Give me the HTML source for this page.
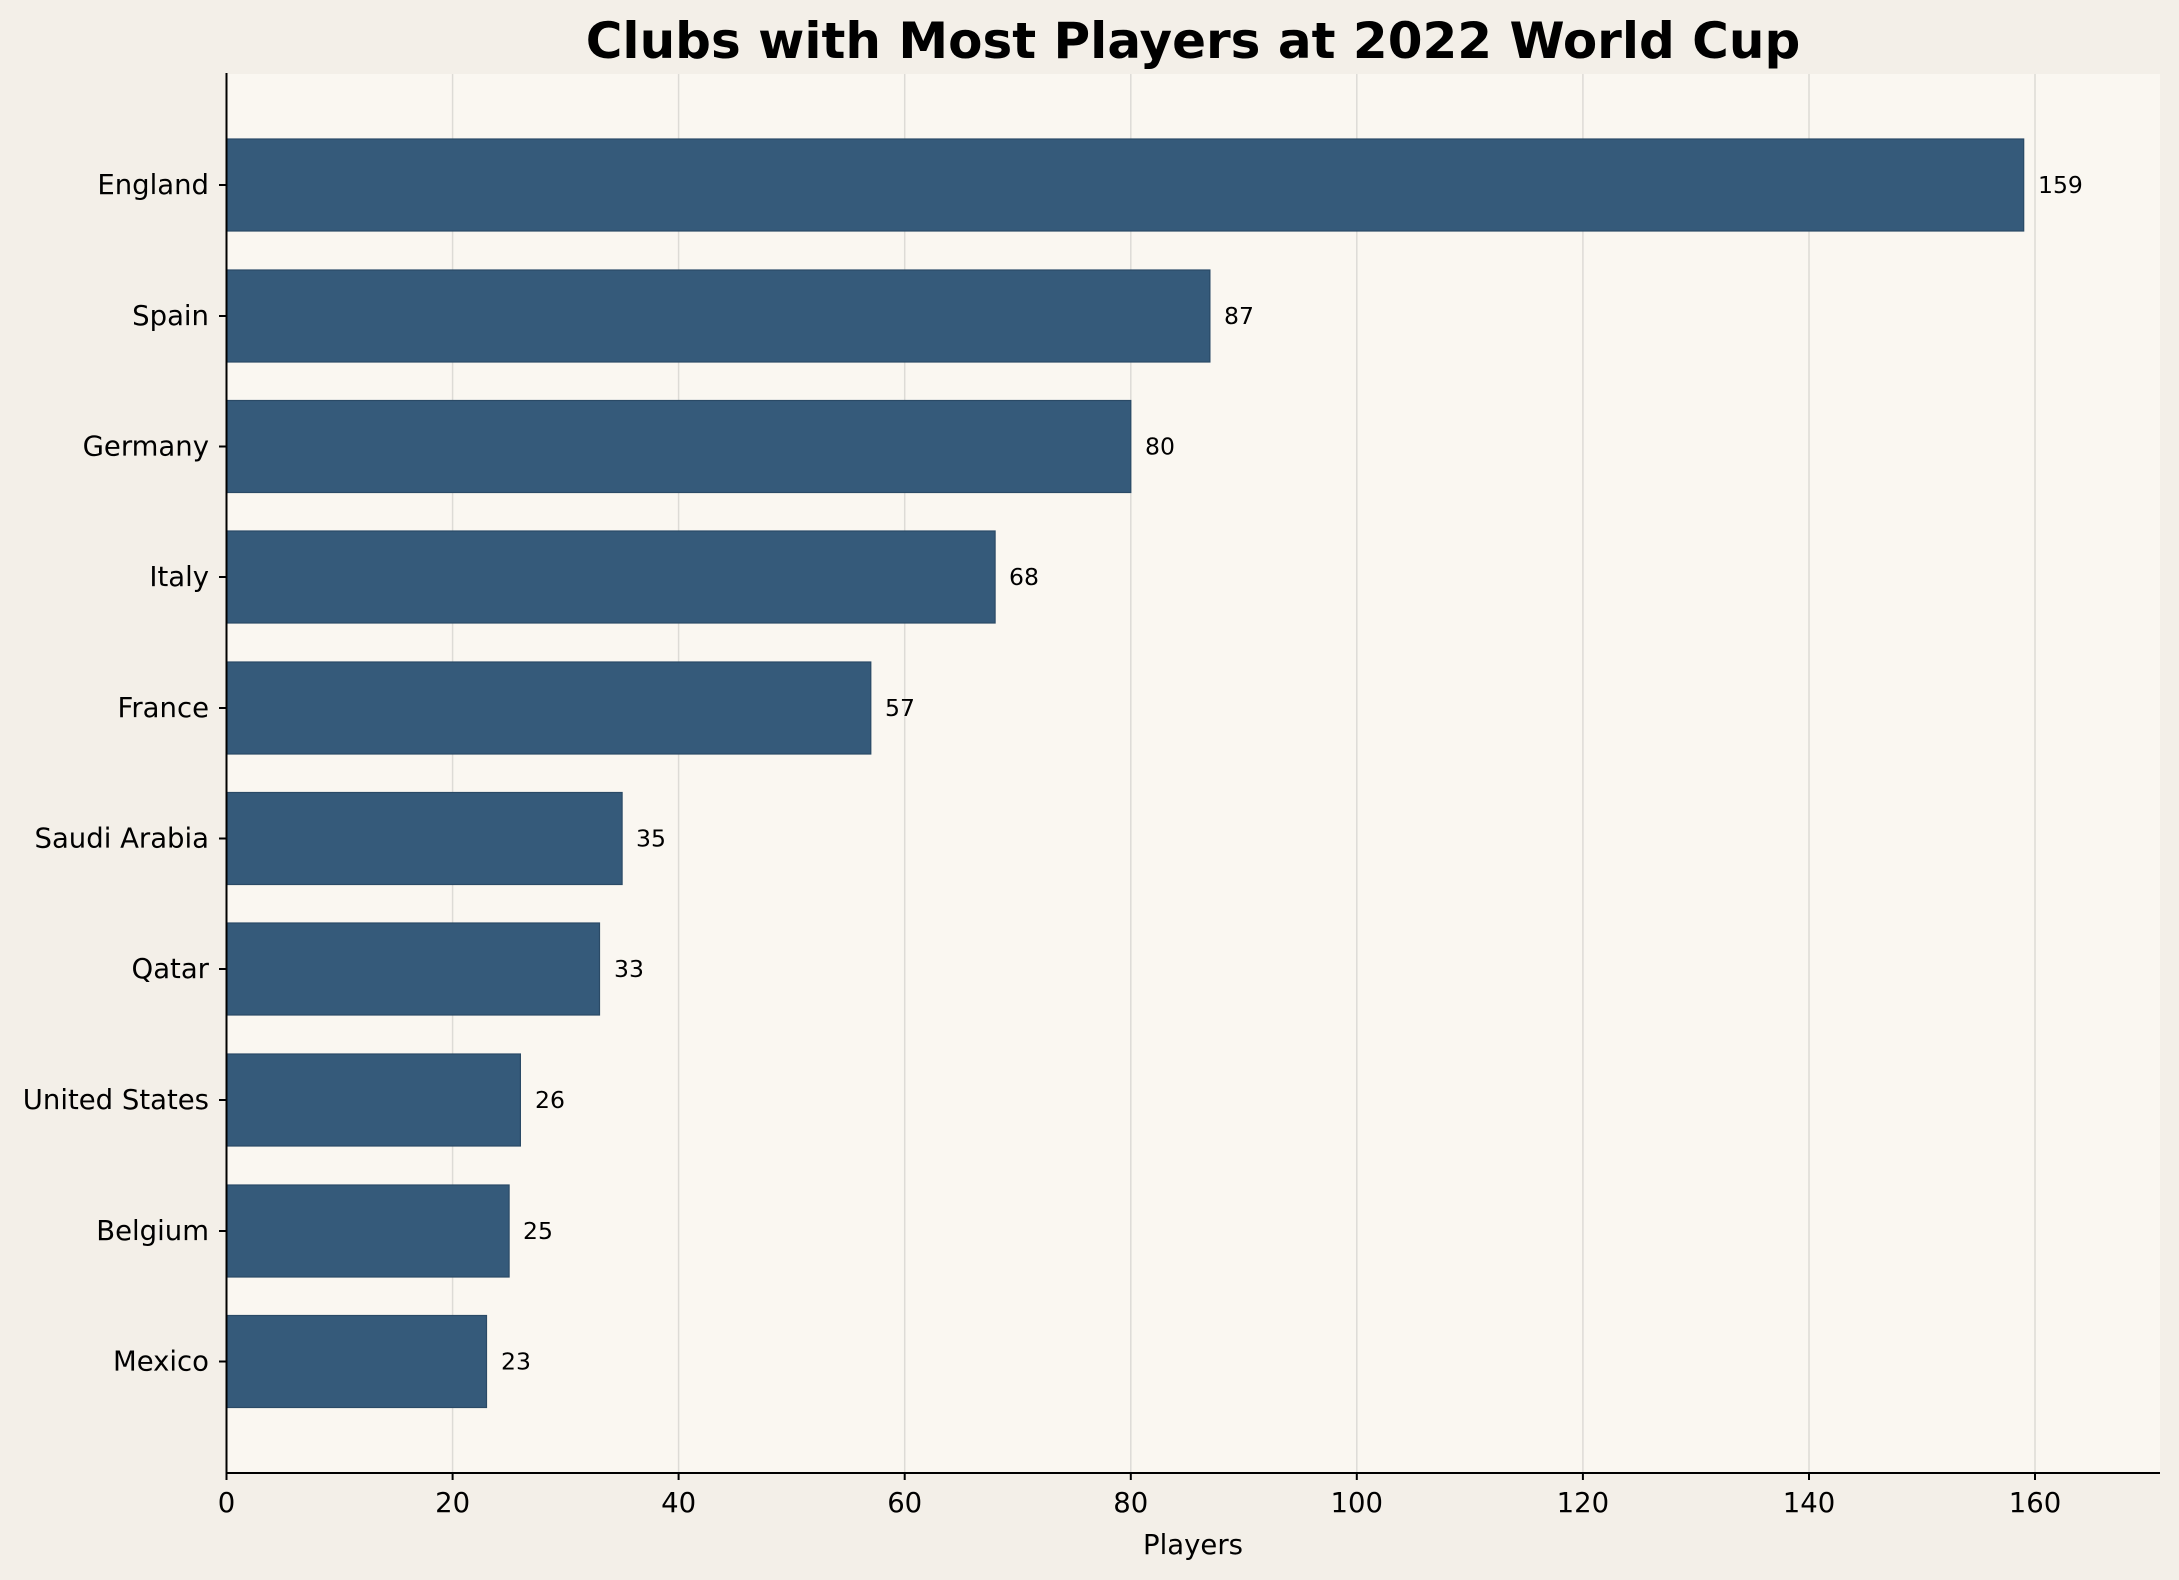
<!DOCTYPE html>
<html><head><meta charset="utf-8"><style>html,body{margin:0;padding:0;background:#f3efe8}svg{display:block}</style></head>
<body>
<svg width="2179" height="1580" viewBox="0 0 2179 1580" xmlns="http://www.w3.org/2000/svg" font-family="DejaVu Sans, Liberation Sans, sans-serif">
<rect width="2179" height="1580" fill="#f3efe8"/>
<rect x="226.5" y="74" width="1933.5" height="1399" fill="#faf7f1"/>
<g stroke="#dddbd6" stroke-width="1.5">
<line x1="452.6" y1="74" x2="452.6" y2="1473"/>
<line x1="678.6" y1="74" x2="678.6" y2="1473"/>
<line x1="904.7" y1="74" x2="904.7" y2="1473"/>
<line x1="1130.8" y1="74" x2="1130.8" y2="1473"/>
<line x1="1356.8" y1="74" x2="1356.8" y2="1473"/>
<line x1="1582.9" y1="74" x2="1582.9" y2="1473"/>
<line x1="1809" y1="74" x2="1809" y2="1473"/>
<line x1="2035" y1="74" x2="2035" y2="1473"/>
</g>
<g fill="#355a7a" stroke="#2a4a66" stroke-width="1.2">
<rect x="226.5" y="139" width="1797.2" height="92"/>
<rect x="226.5" y="270" width="983.4" height="92"/>
<rect x="226.5" y="400.5" width="904.3" height="92"/>
<rect x="226.5" y="531" width="768.6" height="92"/>
<rect x="226.5" y="662" width="644.3" height="92"/>
<rect x="226.5" y="792.5" width="395.6" height="92"/>
<rect x="226.5" y="923" width="373" height="92"/>
<rect x="226.5" y="1054" width="293.9" height="92"/>
<rect x="226.5" y="1185" width="282.6" height="92"/>
<rect x="226.5" y="1315.5" width="260" height="92"/>
</g>
<g font-size="23.5" fill="#000" dominant-baseline="central">
<text x="2038" y="185">159</text>
<text x="1224" y="316">87</text>
<text x="1145" y="446.5">80</text>
<text x="1009" y="577">68</text>
<text x="885" y="708">57</text>
<text x="636" y="838.5">35</text>
<text x="614" y="969">33</text>
<text x="535" y="1100">26</text>
<text x="523" y="1231">25</text>
<text x="501" y="1361.5">23</text>
</g>
<g stroke="#000" stroke-width="2">
<line x1="226.5" y1="73" x2="226.5" y2="1474"/>
<line x1="225.5" y1="1473" x2="2160" y2="1473"/>
<g>
<line x1="219" y1="185" x2="226.5" y2="185"/><line x1="219" y1="316" x2="226.5" y2="316"/>
<line x1="219" y1="446.5" x2="226.5" y2="446.5"/><line x1="219" y1="577" x2="226.5" y2="577"/>
<line x1="219" y1="708" x2="226.5" y2="708"/><line x1="219" y1="838.5" x2="226.5" y2="838.5"/>
<line x1="219" y1="969" x2="226.5" y2="969"/><line x1="219" y1="1100" x2="226.5" y2="1100"/>
<line x1="219" y1="1231" x2="226.5" y2="1231"/><line x1="219" y1="1361.5" x2="226.5" y2="1361.5"/>
</g>
<g>
<line x1="226.5" y1="1473" x2="226.5" y2="1480"/><line x1="452.6" y1="1473" x2="452.6" y2="1480"/>
<line x1="678.6" y1="1473" x2="678.6" y2="1480"/><line x1="904.7" y1="1473" x2="904.7" y2="1480"/>
<line x1="1130.8" y1="1473" x2="1130.8" y2="1480"/><line x1="1356.8" y1="1473" x2="1356.8" y2="1480"/>
<line x1="1582.9" y1="1473" x2="1582.9" y2="1480"/><line x1="1809" y1="1473" x2="1809" y2="1480"/>
<line x1="2035" y1="1473" x2="2035" y2="1480"/>
</g>
</g>
<g font-size="27.5" fill="#000" text-anchor="end" dominant-baseline="central">
<text x="209" y="185">England</text>
<text x="209" y="316">Spain</text>
<text x="209" y="446.5">Germany</text>
<text x="209" y="577">Italy</text>
<text x="209" y="708">France</text>
<text x="209" y="838.5">Saudi Arabia</text>
<text x="209" y="969">Qatar</text>
<text x="209" y="1100">United States</text>
<text x="209" y="1231">Belgium</text>
<text x="209" y="1361.5">Mexico</text>
</g>
<g font-size="27.5" fill="#000" text-anchor="middle">
<text x="226.5" y="1512">0</text>
<text x="452.6" y="1512">20</text>
<text x="678.6" y="1512">40</text>
<text x="904.7" y="1512">60</text>
<text x="1130.8" y="1512">80</text>
<text x="1356.8" y="1512">100</text>
<text x="1582.9" y="1512">120</text>
<text x="1809" y="1512">140</text>
<text x="2035" y="1512">160</text>
<text x="1193" y="1554">Players</text>
</g>
<text x="1193" y="58" font-size="50" font-weight="bold" text-anchor="middle" fill="#000">Clubs with Most Players at 2022 World Cup</text>
</svg>
</body></html>
